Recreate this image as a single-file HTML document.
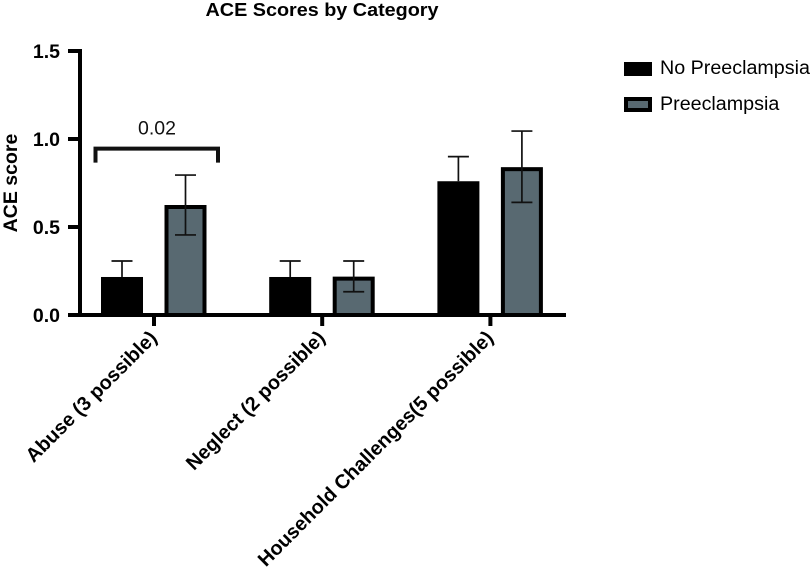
<!DOCTYPE html>
<html>
<head>
<meta charset="utf-8">
<style>
html,body{margin:0;padding:0;background:#fff;}
svg{display:block;font-family:"Liberation Sans",sans-serif;}
</style>
</head>
<body>
<svg id="chart" width="812" height="577" viewBox="0 0 812 577" xmlns="http://www.w3.org/2000/svg"></svg>
<script>
const categories = ["Abuse (3 possible)", "Neglect (2 possible)", "Household Challenges(5 possible)"];
const seriesNames = ["No Preeclampsia", "Preeclampsia"];
const noPreMean = [0.216, 0.216, 0.76];
const noPreUpper = [0.307, 0.307, 0.90];
const noPreLower = [0.13, 0.13, 0.62];
const preMean = [0.625, 0.218, 0.84];
const preUpper = [0.795, 0.307, 1.045];
const preLower = [0.455, 0.132, 0.64];
const yTicks = [0, 0.5, 1, 1.5];
const yTickLabels = ["0.0", "0.5", "1.0", "1.5"];
const bracketValue = 0.945;
const bracketLabel = "0.02";

const svg = document.getElementById('chart');
const NS = 'http://www.w3.org/2000/svg';
function mk(tag, attrs, text) {
  const e = document.createElementNS(NS, tag);
  for (const k in attrs) e.setAttribute(k, attrs[k]);
  if (text !== undefined) e.textContent = text;
  svg.appendChild(e);
  return e;
}
const y = v => 315 - v * 176;
const xCat = i => 154 + i * 168.2;
const barW = 42;
const barOffset = [-32, 31.5];

// title
let el = mk('text', {transform: 'translate(322 16) scale(1.07 1)', 'text-anchor': 'middle', 'font-size': 18.5, 'font-weight': 'bold', fill: '#000'}, 'ACE Scores by Category');



// y axis title
el = mk('text', {transform: 'translate(17 183) rotate(-90)', 'text-anchor': 'middle', 'font-size': 19.5, 'font-weight': 'bold', fill: '#000'}, 'ACE score');



// bars + error bars
function drawSeries(means, uppers, lowers, s) {
  means.forEach((m, i) => {
    const cx = xCat(i) + barOffset[s];
    const top = y(m);
    const bar = mk('rect', s === 0
      ? {x: cx - barW / 2, y: top, width: barW, height: y(0) - top, fill: '#000'}
      : {x: cx - barW / 2 + 2, y: top + 2, width: barW - 4, height: y(0) - top - 2, fill: '#586971', stroke: '#000', 'stroke-width': 4});
    
    
    const lowV = s === 0 ? m : lowers[i];
    const stem = mk('line', {x1: cx, x2: cx, y1: y(uppers[i]), y2: y(lowV), stroke: '#111', 'stroke-width': 1.7});
    
    
    const capTop = mk('line', {x1: cx - 10.5, x2: cx + 10.5, y1: y(uppers[i]), y2: y(uppers[i]), stroke: '#111', 'stroke-width': 1.7});
    
    
    if (s === 1) {
      const capLow = mk('line', {x1: cx - 10.5, x2: cx + 10.5, y1: y(lowers[i]), y2: y(lowers[i]), stroke: '#111', 'stroke-width': 1.7});
      
      
    }
  });
}
drawSeries(noPreMean, noPreUpper, noPreLower, 0);
drawSeries(preMean, preUpper, preLower, 1);

// y axis
el = mk('line', {x1: 80, x2: 80, y1: y(1.5) - 2, y2: y(0) + 2, stroke: '#000', 'stroke-width': 4});


yTicks.forEach((t, i) => {
  const tick = mk('line', {x1: 68, x2: 80, y1: y(t), y2: y(t), stroke: '#000', 'stroke-width': 4});
  
  
  const lab = mk('text', {x: 60, y: y(t) + 7, 'text-anchor': 'end', 'font-size': 19.5, 'font-weight': 'bold', fill: '#000'}, yTickLabels[i]);
  
  
});

// x axis
el = mk('line', {x1: 68, x2: 566, y1: y(0), y2: y(0), stroke: '#000', 'stroke-width': 4});


categories.forEach((c, i) => {
  const cx = xCat(i);
  const tick = mk('line', {x1: cx, x2: cx, y1: y(0), y2: 326, stroke: '#000', 'stroke-width': 4});
  
  
  const lab = mk('text', {transform: 'translate(' + (cx + 4) + ' 339) rotate(-45)', 'text-anchor': 'end', 'font-size': 19.8, 'font-weight': 'bold', fill: '#000'}, c);
  
  
});

// significance bracket
const by = y(bracketValue);
el = mk('path', {d: 'M95.5 ' + (by + 14) + 'V' + by + 'H218V' + (by + 14), fill: 'none', stroke: '#111', 'stroke-width': 4});


el = mk('text', {x: 157, y: by - 14, 'text-anchor': 'middle', 'font-size': 19.5, fill: '#111'}, bracketLabel);



// legend
el = mk('rect', {x: 624, y: 62, width: 28, height: 14, fill: '#000'});


el = mk('text', {x: 660, y: 74, 'font-size': 19.7, fill: '#000'}, seriesNames[0]);


el = mk('rect', {x: 626, y: 99, width: 24, height: 11, fill: '#586971', stroke: '#000', 'stroke-width': 4});


el = mk('text', {x: 660, y: 110, 'font-size': 19.7, fill: '#000'}, seriesNames[1]);


</script>
</body>
</html>
